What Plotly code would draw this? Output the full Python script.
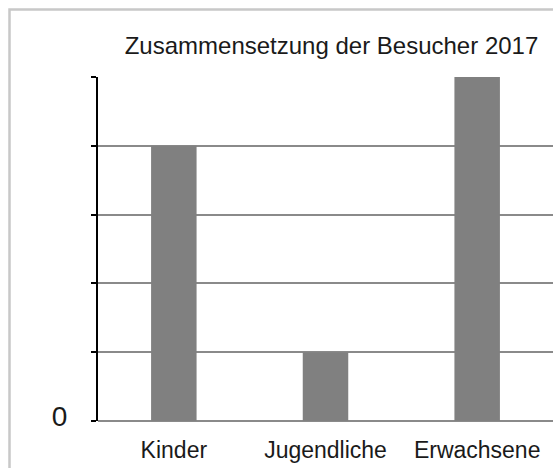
import plotly.graph_objects as go

categories = ["Kinder", "Jugendliche", "Erwachsene"]
values = [4, 1, 5]
y_tickvals = [0, 1, 2, 3, 4, 5]
y_ticktext = ["0", "", "", "", "", ""]
title_text = "Zusammensetzung der Besucher 2017"

W, H = 553, 468
L, R, T, B = 98, 0, 77, 47
pw, ph = W - L - R, H - T - B

fig = go.Figure(go.Bar(
    x=categories, y=values,
    marker=dict(color="#808080", line=dict(width=0)),
    width=0.30,
))

FONT = "Liberation Sans, Arial, sans-serif"

fig.update_layout(
    width=W, height=H,
    margin=dict(l=L, r=R, t=T, b=B, pad=0),
    paper_bgcolor="white", plot_bgcolor="white",
    showlegend=False,
    font=dict(family=FONT, color="#1a1a1a"),
    title=dict(text=title_text, font=dict(size=24, family=FONT, color="#1a1a1a"),
               xref="container", x=331.5 / W, xanchor="center",
               yref="container", y=1 - 46 / H, yanchor="middle"),
    xaxis=dict(range=[-0.5, 2.5], showgrid=False, showline=False, zeroline=False,
               ticks="", tickfont=dict(size=23, family=FONT, color="#1a1a1a"),
               ticklabelstandoff=13, fixedrange=True),
    yaxis=dict(range=[0, 5], tickvals=y_tickvals, ticktext=y_ticktext,
               showgrid=True, gridcolor="#8a8a8a", gridwidth=1.8,
               zeroline=True, zerolinecolor="#8a8a8a", zerolinewidth=1.8,
               showline=True, linecolor="black", linewidth=2.2,
               ticks="outside", ticklen=5, tickcolor="black", tickwidth=2,
               tickfont=dict(size=28, family=FONT, color="#1a1a1a"),
               ticklabelstandoff=18, ticklabelshift=-5, fixedrange=True),
    shapes=[dict(type="rect", xref="paper", yref="paper",
                 x0=(9.5 - L) / pw, x1=1.2,
                 y0=-0.3, y1=(H - B - 9.5) / ph,
                 line=dict(color="#c8c8c8", width=2.5), layer="below")],
)

fig.write_html("out.html", config={"displayModeBar": False},
               post_script="document.body.style.margin='0px';document.body.style.overflow='hidden';")
